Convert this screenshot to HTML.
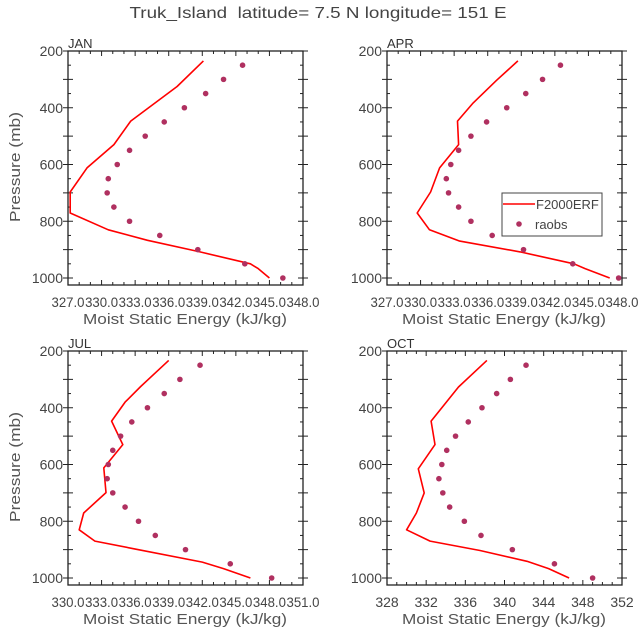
<!DOCTYPE html>
<html><head><meta charset="utf-8"><style>
html,body{margin:0;padding:0;background:#fff;}
svg{display:block;font-family:"Liberation Sans",sans-serif;}
</style></head><body>
<svg id="chart" width="643" height="635" viewBox="0 0 643 635" xmlns="http://www.w3.org/2000/svg">
<text x="318" y="18" text-anchor="middle" font-size="16" fill="#444" textLength="377" lengthAdjust="spacingAndGlyphs">Truk_Island&#160; latitude= 7.5 N longitude= 151 E</text>
</svg>
<script>
const panelNames = ["JAN","APR","JUL","OCT"];
const modelP = [[235,325,447,530,612,697,771,830,867,908,950,967,1000],
                [235,303,383,447,530,612,697,771,830,870,908,950,967,1000],
                [233,325,380,447,530,612,699,771,830,870,897,944,967,1000],
                [233,327,447,530,615,700,771,830,870,903,941,967,1000]];
const modelJan = [339.1,336.75,332.6,331.1,328.7,327.2,327.2,330.6,334.1,338.8,343.3,344.0,345.0];
const modelApr = [338.7,336.8,334.7,333.3,333.4,331.7,330.9,329.7,330.8,333.5,338.9,343.7,344.7,346.9];
const modelJul = [339.0,336.5,335.1,333.9,334.9,333.2,333.4,331.4,331.0,332.4,335.9,342.0,343.9,346.3];
const modelOct = [338.2,335.3,332.5,332.9,331.2,331.8,331.0,330.0,332.4,337.5,342.3,344.5,346.6];
const obsP = [250,300,350,400,450,500,550,600,650,700,750,800,850,900,950,1000];
const obsJan = [342.6,340.9,339.3,337.4,335.6,333.9,332.5,331.4,330.6,330.5,331.1,332.5,335.2,338.6,342.8,346.2];
const obsApr = [342.5,340.9,339.4,337.7,335.9,334.5,333.4,332.7,332.3,332.5,333.4,334.5,336.4,339.2,343.6,347.7];
const obsJul = [341.8,340.0,338.6,337.1,335.7,334.7,334.0,333.6,333.5,334.0,335.1,336.3,337.8,340.5,344.5,348.2];
const obsOct = [342.2,340.6,339.2,337.7,336.3,335.0,334.1,333.6,333.3,333.7,334.4,335.9,337.6,340.8,345.1,349.0];
const xMin = [327,327,330,328];
const xMax = [348,348,351,352];
const xStep = [3,3,3,4];
const xDec = [true,true,true,false];
const yTicks = [200,400,600,800,1000];

const models=[modelJan,modelApr,modelJul,modelOct];
const obs=[obsJan,obsApr,obsJul,obsOct];
const NS="http://www.w3.org/2000/svg";
const svg=document.getElementById('chart');
function mk(tag,attrs,parent){const e=document.createElementNS(NS,tag);for(const k in attrs)e.setAttribute(k,attrs[k]);(parent||svg).appendChild(e);return e;}
const origins=[[68,51],[387,51],[68,351],[387,351]];
const W=235,H=234;
for(let i=0;i<4;i++){
  const [ox,oy]=origins[i];
  const g=mk('g',{});
  
  
  const xs=v=>ox+(v-xMin[i])/(xMax[i]-xMin[i])*W;
  const ys=p=>oy+(p-200)*0.28375;
  const lab=mk('text',{x:ox,y:oy-3,'font-size':13,fill:'#333'},g);
  lab.textContent=panelNames[i];
  
  
  for(let v=xMin[i];v<=xMax[i]+1e-6;v+=1){
    const major=Math.abs((v-xMin[i])%xStep[i])<1e-6;
    const L=major?5:3;
    mk('line',{x1:xs(v),x2:xs(v),y1:oy+H,y2:oy+H-L,stroke:'#222','stroke-width':1},g);
    mk('line',{x1:xs(v),x2:xs(v),y1:oy,y2:oy+L,stroke:'#222','stroke-width':1},g);
    if(major){
      const t=mk('text',{x:xs(v),y:oy+H+22,'text-anchor':'middle','font-size':14,fill:'#444'},g);
      t.textContent=xDec[i]?v.toFixed(1):String(v);
      if(xDec[i]){t.setAttribute('textLength','33');t.setAttribute('lengthAdjust','spacingAndGlyphs');}
      
      
    }
  }
  for(let p=200;p<=1000;p+=50){
    const major=p%100===0;
    const L=major?5:3;
    mk('line',{x1:ox,x2:ox-(major?5:0),y1:ys(p),y2:ys(p),stroke:'#222'},g);
    mk('line',{x1:ox,x2:ox+L,y1:ys(p),y2:ys(p),stroke:'#222'},g);
    mk('line',{x1:ox+W,x2:ox+W+(major?5:0),y1:ys(p),y2:ys(p),stroke:'#222'},g);
    mk('line',{x1:ox+W,x2:ox+W-L,y1:ys(p),y2:ys(p),stroke:'#222'},g);
  }
  yTicks.forEach(p=>{
    const t=mk('text',{x:ox-5,y:ys(p)+5,'text-anchor':'end','font-size':14,fill:'#444'},g);
    t.textContent=p;
    
    
  });
  const box=mk('rect',{x:ox,y:oy,width:W,height:H,fill:'none',stroke:'#222','stroke-width':1.3},g);
  
  
  const xt=mk('text',{x:ox+117,y:oy+H+39,'text-anchor':'middle','font-size':15,fill:'#555',textLength:204,lengthAdjust:'spacingAndGlyphs'},g);
  xt.textContent='Moist Static Energy (kJ/kg)';
  
  
  if(i%2===0){
    const yt=mk('text',{x:0,y:0,'text-anchor':'middle','font-size':15,fill:'#555',textLength:110,lengthAdjust:'spacingAndGlyphs',transform:`translate(20,${oy+116}) rotate(-90)`},g);
    yt.textContent='Pressure (mb)';
    
    
  }
  const pts=models[i].map((v,k)=>xs(v).toFixed(1)+','+ys(modelP[i][k]).toFixed(1)).join(' ');
  const line=mk('polyline',{points:pts,fill:'none',stroke:'#f00','stroke-width':1.6,'stroke-linejoin':'round'},g);
  
  
  obs[i].forEach((v,k)=>{
    const c=mk('circle',{cx:xs(v),cy:ys(obsP[k]),r:2.8,fill:'#b03060'},g);
    
    
  });
}
const lg=mk('g',{});


mk('rect',{x:502,y:193,width:100,height:43,fill:'#fff',stroke:'#444','stroke-width':1},lg);
mk('line',{x1:503,x2:535,y1:204,y2:204,stroke:'#f00','stroke-width':1.6},lg);
const l1=mk('text',{x:536,y:209,'font-size':13,fill:'#444'},lg);
l1.textContent='F2000ERF';


mk('circle',{cx:519,cy:224,r:2.8,fill:'#b03060'},lg);
const l2=mk('text',{x:535,y:229,'font-size':13,fill:'#444'},lg);
l2.textContent='raobs';


</script>
</body></html>
